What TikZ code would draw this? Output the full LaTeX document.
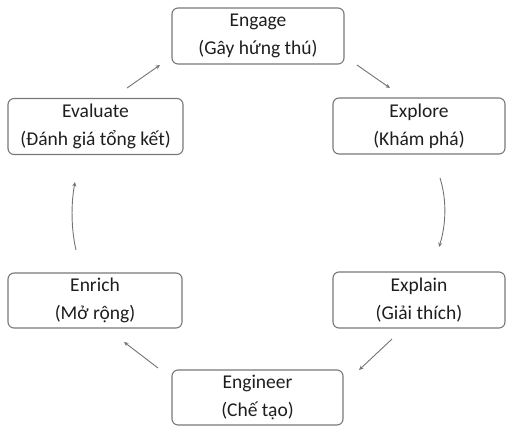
\documentclass[tikz,border=0pt]{standalone}
\usepackage{fontspec}
\setmainfont{Carlito}
\usetikzlibrary{arrows.meta}
\definecolor{boxgray}{RGB}{120,120,120}
\definecolor{arrgray}{RGB}{115,115,115}
\definecolor{txt}{RGB}{30,30,30}
\begin{document}
\begin{tikzpicture}[x=1pt,y=-1pt,
  stagebox/.style={draw=boxgray, line width=1.1pt, rounded corners=6pt, inner sep=0pt,
    align=center, text=txt, font=\fontsize{19.5}{28}\selectfont},
  cyc/.style={draw=arrgray, line width=0.9pt, -{Stealth[length=4.5pt,width=4pt]}}]
\useasboundingbox (0,0) rectangle (506,426);
\node[stagebox, minimum width=172pt, minimum height=56pt] (engage) at (258,36) {Engage\\(Gây hứng thú)};
\node[stagebox, minimum width=172pt, minimum height=56pt] (explore) at (419,126) {Explore\\(Khám phá)};
\node[stagebox, minimum width=172pt, minimum height=56pt] (explain) at (419,300) {Explain\\(Giải thích)};
\node[stagebox, minimum width=171pt, minimum height=55pt] (engineer) at (257.5,397.5) {Engineer\\(Chế tạo)};
\node[stagebox, minimum width=174pt, minimum height=55pt] (enrich) at (95,300.5) {Enrich\\(Mở rộng)};
\node[stagebox, minimum width=175pt, minimum height=56pt] (evaluate) at (95.5,126.5) {Evaluate\\(Đánh giá tổng kết)};
% arrow end points
\coordinate (a1s) at (127,88);  \coordinate (a1e) at (160,65);
\coordinate (a2s) at (357,65);  \coordinate (a2e) at (390,88);
\coordinate (a3s) at (440,178); \coordinate (a3e) at (439,247);
\coordinate (a4s) at (392,339); \coordinate (a4e) at (359,370);
\coordinate (a5s) at (158,368); \coordinate (a5e) at (124,342);
\coordinate (a6s) at (76,250);  \coordinate (a6e) at (75,182);
\draw[cyc] (a1s) -- (a1e);
\draw[cyc] (a2s) -- (a2e);
\draw[cyc] (a3s) .. controls (447,200) and (446,225) .. (a3e);
\draw[cyc] (a4s) -- (a4e);
\draw[cyc] (a5s) -- (a5e);
\draw[cyc] (a6s) .. controls (71,228) and (71,204) .. (a6e);
\end{tikzpicture}
\end{document}
